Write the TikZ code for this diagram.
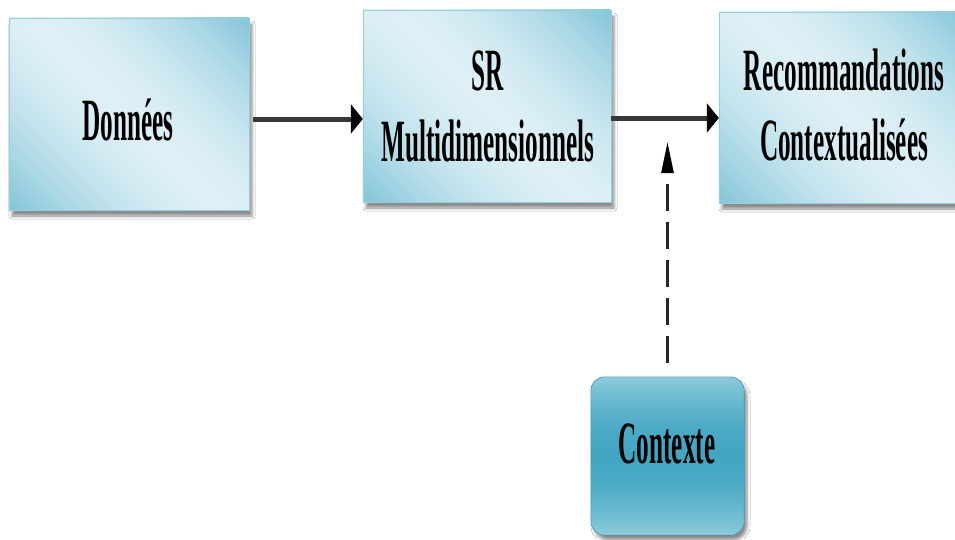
\documentclass[tikz,border=0pt]{standalone}
\usepackage{fontspec}
\newfontfamily\lblfont{Liberation Serif}[FakeStretch=0.42]
\usetikzlibrary{arrows.meta,shadows.blur}

\definecolor{boxlight}{RGB}{222,240,246}
\definecolor{boxdark}{RGB}{130,197,217}
\definecolor{boxedge}{RGB}{150,206,222}
\definecolor{ctxlight}{RGB}{142,203,220}
\definecolor{ctxdark}{RGB}{66,166,195}
\definecolor{ctxedge}{RGB}{70,150,175}

\tikzset{
  panel/.style={rectangle, fill=boxdark, inner sep=0pt,
    blur shadow={shadow xshift=3pt, shadow yshift=-6pt,
                 shadow blur radius=3pt, shadow opacity=45}},
  cuebox/.style={rectangle, rounded corners=14pt, fill=ctxdark,
    inner sep=0pt, minimum width=153pt, minimum height=158pt,
    blur shadow={shadow xshift=3pt, shadow yshift=-5pt,
                 shadow blur radius=3pt, shadow opacity=45}},
  lbl/.style={font=\lblfont\bfseries\fontsize{60}{70}\selectfont,
    anchor=base, inner sep=0pt},
  flow/.style={line width=5pt, black!78,
    -{Triangle[length=12pt,width=29pt,black]}},
  cue/.style={line width=2.5pt, black!85, dash pattern=on 27pt off 11pt,
    -{Triangle[length=31pt,width=12pt,black]}}
}

% diagonal light band over a panel node: dark toward the upper right
% and lower left corners, light along the other diagonal
\newcommand\diagfill[3]{%
  \begin{scope}
    \clip (#1.south west) rectangle (#1.north east);
    \pgfmathsetmacro\gspan{(#2+#3)/2.8284}
    \begin{scope}[shift={(#1.center)}, rotate=225]
      \foreach \k in {0,...,99}{
        \pgfmathsetmacro\gA{-\gspan+\k/50*\gspan}
        \pgfmathsetmacro\gB{\gA+\gspan/50+0.5}
        \pgfmathsetmacro\mixp{100*(1-abs((\k+0.5)/50-1)^1.7)}
        \fill[boxlight!\mixp!boxdark] (\gA,-300) rectangle (\gB,300);
      }
    \end{scope}
  \end{scope}
  \draw[boxedge, line width=0.6pt] (#1.south west) rectangle (#1.north east);
}

% vertical band for the rounded context box: light at top and bottom
\newcommand\bandfill[1]{%
  \begin{scope}
    \clip[rounded corners=14pt] (#1.south west) rectangle (#1.north east);
    \begin{scope}[shift={(#1.north west)}]
      \foreach \k in {0,...,79}{
        \pgfmathsetmacro\gA{\k/80*158}
        \pgfmathsetmacro\gB{\gA+158/80+0.5}
        \pgfmathsetmacro\mixp{100*abs((\k+0.5)/40-1)^1.8}
        \fill[ctxlight!\mixp!ctxdark] (-1,\gA) rectangle (160,\gB);
      }
    \end{scope}
  \end{scope}
  \draw[ctxedge, line width=0.6pt, rounded corners=14pt]
    (#1.south west) rectangle (#1.north east);
}

\begin{document}
\begin{tikzpicture}[x=1pt,y=-1pt]
  \useasboundingbox[fill=white] (0,0) rectangle (955,539);

  % processing chain
  \node[panel, minimum width=240pt, minimum height=192pt] (d)   at (129,114)   {};
  \node[panel, minimum width=248pt, minimum height=192pt] (sr)  at (487,106)   {};
  \node[panel, minimum width=248pt, minimum height=191pt] (rec) at (843,107.5) {};
  \node[cuebox] (ctx) at (667.5,456) {};
  \diagfill{d}{240}{192}
  \diagfill{sr}{248}{192}
  \diagfill{rec}{248}{191}
  \bandfill{ctx}

  % labels
  \node[lbl] (dT)   at (128,140) {Données};
  \node[lbl] (srT)  at (488,90)  {SR};
  \node[lbl] (srB)  at (488,161) {Multidimensionnels};
  \node[lbl] (recT) at (844,90)  {Recommandations};
  \node[lbl] (recB) at (844,160) {Contextualisées};
  \node[lbl] (ctxT) at (667,463) {Contexte};

  % connectors
  \draw[flow] ([shift={(4,5)}]d.east) coordinate (a1) -- (a1 -| sr.west);
  \draw[flow] ([shift={(0,12)}]sr.east) coordinate (a2) -- (a2 -| rec.west);
  \coordinate (hit) at (667.5,142);
  \draw[cue] ([shift={(0,-14)}]ctx.north) -- (hit);
\end{tikzpicture}
\end{document}
